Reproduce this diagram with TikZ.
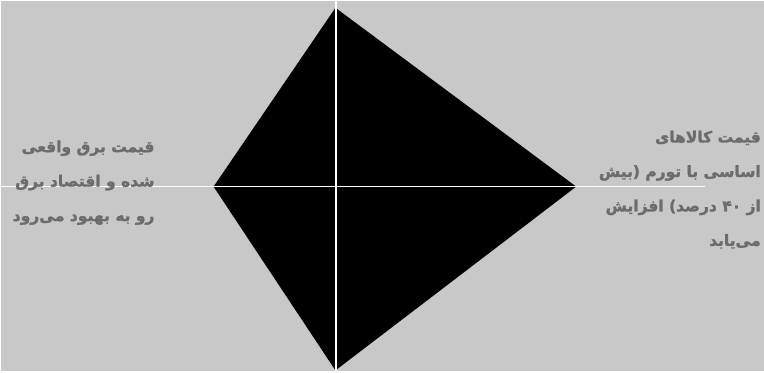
\documentclass[tikz,border=0pt]{standalone}
\usepackage{fontspec}
\usepackage{tikz}
\TeXXeTstate=1
\newfontfamily\arabicfont[Script=Arabic,BoldFeatures={FakeBold=1.6}]{DejaVu Sans}
\definecolor{bggray}{RGB}{200,200,200}
\definecolor{txtgray}{RGB}{108,108,108}
\tikzset{
  note/.style={text=txtgray,align=right,inner sep=0pt,
    font=\arabicfont\bfseries\fontsize{15.5}{34.5}\selectfont},
  axis/.style={white,line width=1.6pt}
}

\begin{document}
\begin{tikzpicture}[x=1pt,y=-1pt]
    \fill[bggray] (0,0) rectangle (764,371);
    \coordinate (T) at (335,7);
    \coordinate (R) at (576,186);
    \coordinate (B) at (335,370);
    \coordinate (L) at (213,186);
    \fill[black] (T) -- (R) -- (B) -- (L) -- cycle;
    \coordinate (N) at (335.5,0);
    \coordinate (S) at (335.5,371);
    \coordinate (W) at (0,186);
    \coordinate (E) at (705,186);
    \draw[axis] (N) -- (S);
    \draw[axis] (W) -- (E);
    \node[note,anchor=east] (left) at (154,182) {\beginR قیمت برق واقعی\endR\\
      \beginR شده و اقتصاد برق\endR\\
      \beginR رو به بهبود می‌رود\endR};
    \node[note,anchor=east] (right) at (761,189) {\beginR قیمت کالاهای\endR\\
      \beginR اساسی با تورم (بیش\endR\\
      \beginR از ۴۰ درصد) افزایش\endR\\
      \beginR می‌یابد\endR};
\end{tikzpicture}
\end{document}
